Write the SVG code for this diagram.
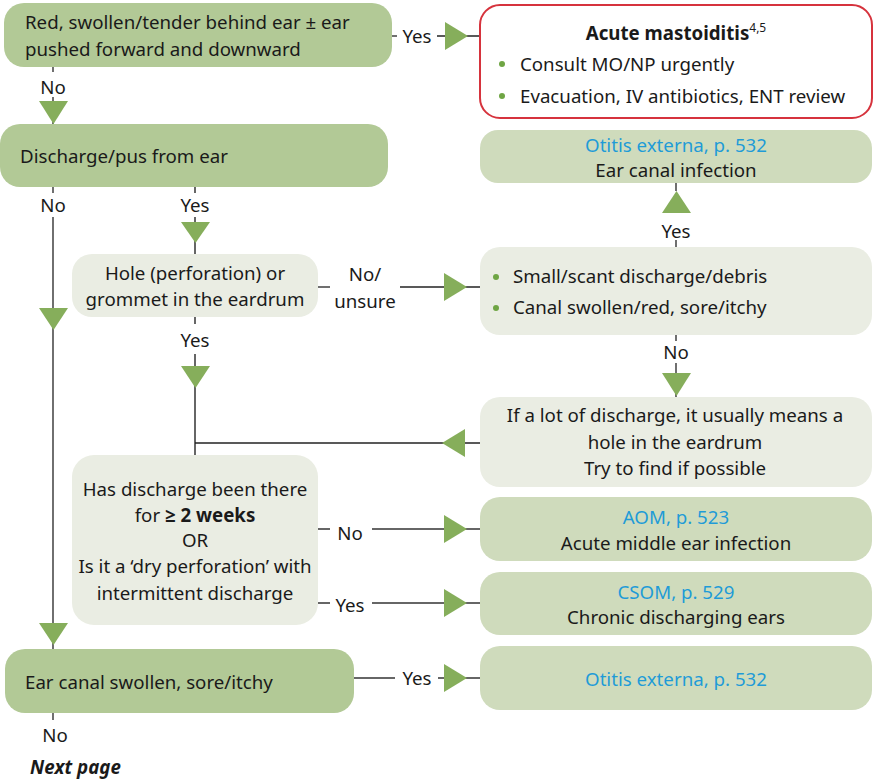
<svg xmlns="http://www.w3.org/2000/svg" width="877" height="782" viewBox="0 0 877 782">
<style>
text{font-family:"Noto Sans","Open Sans","DejaVu Sans",sans-serif;font-size:18.7px;fill:#1a1a1a}
.c{text-anchor:middle}
.blue{fill:#1f9bd7}
.dark{fill:#b2c996}
.light{fill:#eaede3}
.res{fill:#cfdbbc}
.ln{stroke:#222;stroke-width:1.3;fill:none}
.gl{stroke:#666;stroke-width:2;fill:none}
.ar{fill:#86ae5b}
.dot{fill:#6fa544}
</style>
<rect width="877" height="782" fill="#fff"/>
<g id="connectors">
<line class="ln" x1="392" y1="36" x2="397" y2="36"/>
<line class="ln" x1="437" y1="36" x2="480" y2="36"/>
<polygon class="ar" points="445,22 468,36 445,50"/>
<text x="417" y="43" class="c">Yes</text>
<line class="ln" x1="53" y1="67" x2="53" y2="72"/>
<line class="ln" x1="53" y1="97" x2="53" y2="124"/>
<polygon class="ar" points="39,101 68,101 53.5,124"/>
<text x="53" y="94" class="c">No</text>
<line class="ln" x1="53" y1="187" x2="53" y2="193"/>
<line class="ln" x1="53" y1="217" x2="53" y2="650"/>
<polygon class="ar" points="39,308 68,308 53.5,330"/>
<polygon class="ar" points="39,623 68,623 53.5,645"/>
<text x="53" y="212" class="c">No</text>
<line class="gl" x1="195" y1="187" x2="195" y2="193"/>
<line class="gl" x1="195" y1="217" x2="195" y2="254"/>
<polygon class="ar" points="181,222 210,222 195.5,243"/>
<text x="195" y="212" class="c">Yes</text>
<line class="ln" x1="318" y1="287" x2="330" y2="287"/>
<line class="ln" x1="400" y1="287" x2="480" y2="287"/>
<polygon class="ar" points="444,273 467,287 444,301"/>
<text x="365" y="281" class="c">No/</text>
<text x="365" y="308" class="c">unsure</text>
<line class="gl" x1="195" y1="317" x2="195" y2="324"/>
<line class="gl" x1="195" y1="354" x2="195" y2="455"/>
<polygon class="ar" points="181,366 210,366 195.5,388"/>
<text x="195" y="347" class="c">Yes</text>
<line class="ln" x1="676" y1="183" x2="676" y2="191"/>
<line class="ln" x1="676" y1="240" x2="676" y2="247"/>
<polygon class="ar" points="662,213 691,213 676.5,191"/>
<text x="676" y="238" class="c">Yes</text>
<line class="ln" x1="676" y1="335" x2="676" y2="341"/>
<line class="ln" x1="676" y1="363" x2="676" y2="397"/>
<polygon class="ar" points="662,373 691,373 676.5,396"/>
<text x="676" y="359" class="c">No</text>
<line class="ln" x1="195" y1="443" x2="480" y2="443"/>
<polygon class="ar" points="465,429 442,443 465,457"/>
<line class="gl" x1="318" y1="529" x2="330" y2="529"/>
<line class="gl" x1="372" y1="529" x2="480" y2="529"/>
<polygon class="ar" points="444,515 467,529 444,543"/>
<text x="350" y="540" class="c">No</text>
<line class="gl" x1="318" y1="603" x2="330" y2="603"/>
<line class="gl" x1="372" y1="603" x2="480" y2="603"/>
<polygon class="ar" points="444,589 467,603 444,617"/>
<text x="350" y="612" class="c">Yes</text>
<line class="gl" x1="354" y1="678" x2="395" y2="678"/>
<line class="gl" x1="438" y1="678" x2="480" y2="678"/>
<polygon class="ar" points="444,664 467,678 444,692"/>
<text x="417" y="685" class="c">Yes</text>
<line class="ln" x1="53" y1="713" x2="53" y2="720"/>
<text x="55" y="742" class="c">No</text>
</g>
<g id="n_red">
<rect class="dark" x="4" y="3" width="388" height="64" rx="20"/>
<text x="25" y="29">Red, swollen/tender behind ear ± ear</text>
<text x="25" y="56">pushed forward and downward</text>
</g>
<g id="n_mastoiditis">
<rect x="480" y="5" width="392" height="113" rx="20" fill="#fff" stroke="#d6333d" stroke-width="2"/>
<text x="676" y="40" class="c" font-weight="bold">Acute mastoiditis<tspan font-size="12" font-weight="normal" dy="-8">4,5</tspan></text>
<circle class="dot" cx="502" cy="64" r="3"/>
<text x="520" y="71">Consult MO/NP urgently</text>
<circle class="dot" cx="502" cy="96" r="3"/>
<text x="520" y="103">Evacuation, IV antibiotics, ENT review</text>
</g>
<g id="n_discharge">
<rect class="dark" x="0" y="124" width="388" height="63" rx="20"/>
<text x="20" y="163">Discharge/pus from ear</text>
</g>
<g id="n_oe_top">
<rect class="res" x="480" y="130" width="392" height="53" rx="18"/>
<text x="676" y="152" class="c blue">Otitis externa, p. 532</text>
<text x="676" y="177" class="c">Ear canal infection</text>
</g>
<g id="n_hole">
<rect class="light" x="72" y="254" width="246" height="63" rx="20"/>
<text x="195" y="280" class="c">Hole (perforation) or</text>
<text x="195" y="306" class="c">grommet in the eardrum</text>
</g>
<g id="n_bullets">
<rect class="light" x="480" y="247" width="392" height="88" rx="20"/>
<circle class="dot" cx="496" cy="277" r="3"/>
<text x="513" y="283">Small/scant discharge/debris</text>
<circle class="dot" cx="496" cy="308" r="3"/>
<text x="513" y="314">Canal swollen/red, sore/itchy</text>
</g>
<g id="n_lot">
<rect class="light" x="480" y="397" width="392" height="90" rx="20"/>
<text x="675" y="422" class="c">If a lot of discharge, it usually means a</text>
<text x="675" y="449" class="c">hole in the eardrum</text>
<text x="675" y="475" class="c">Try to find if possible</text>
</g>
<g id="n_has">
<rect class="light" x="72" y="455" width="246" height="170" rx="22"/>
<text x="195" y="496" class="c">Has discharge been there</text>
<text x="195" y="522" class="c">for <tspan font-weight="bold">≥ 2 weeks</tspan></text>
<text x="195" y="547" class="c">OR</text>
<text x="195" y="573" class="c">Is it a ‘dry perforation’ with</text>
<text x="195" y="600" class="c">intermittent discharge</text>
</g>
<g id="n_aom">
<rect class="res" x="480" y="497" width="392" height="64" rx="20"/>
<text x="676" y="524" class="c blue">AOM, p. 523</text>
<text x="676" y="550" class="c">Acute middle ear infection</text>
</g>
<g id="n_csom">
<rect class="res" x="480" y="572" width="392" height="63" rx="20"/>
<text x="676" y="599" class="c blue">CSOM, p. 529</text>
<text x="676" y="624" class="c">Chronic discharging ears</text>
</g>
<g id="n_oe_bottom">
<rect class="res" x="480" y="646" width="392" height="64" rx="20"/>
<text x="676" y="686" class="c blue">Otitis externa, p. 532</text>
</g>
<g id="n_earcanal">
<rect class="dark" x="5" y="649" width="349" height="64" rx="20"/>
<text x="25" y="689">Ear canal swollen, sore/itchy</text>
</g>
<g id="n_next">
<text x="30" y="774" font-weight="bold" font-style="italic" font-size="21">Next page</text>
</g>
</svg>
